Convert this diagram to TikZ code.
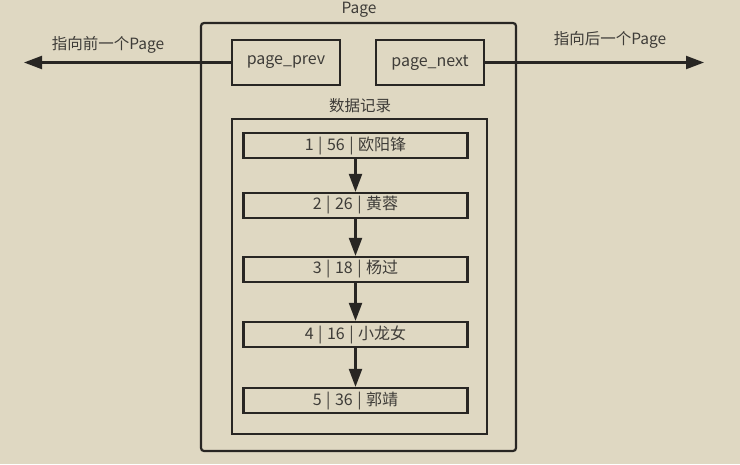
\documentclass[tikz,border=0pt]{standalone}
\usepackage{fontspec}
\setmainfont{Noto Sans CJK SC}
\usetikzlibrary{arrows.meta}
\definecolor{bg}{RGB}{223,216,194}
\definecolor{ln}{RGB}{40,38,35}
\definecolor{tx}{RGB}{62,60,56}
\newcommand{\sep}{\hspace{0.28em}|\hspace{0.28em}}
\tikzset{
  box/.style={draw=ln, line width=2.2pt, inner sep=0pt},
  rec/.style={box, minimum width=224pt, minimum height=25pt, text=tx, font=\fontsize{16}{18}\selectfont},
  lbl/.style={text=tx, font=\fontsize{15.5}{18}\selectfont, inner sep=0pt},
  conn/.style={draw=ln, line width=2.2pt, -{Triangle[length=18pt,width=13pt]}},
}
\begin{document}
\begin{tikzpicture}[x=1pt,y=-1pt]
\fill[bg] (0,0) rectangle (740,464);
\useasboundingbox (0,0) rectangle (740,464);
\node[box, rounded corners=3pt, minimum width=315pt, minimum height=428pt] (page) at (358.5,237) {};
\node[lbl] (pagelbl) at (359,10) {Page};
\node[box, minimum width=108pt, minimum height=45pt, text=tx, font=\fontsize{16}{18}\selectfont] (prev) at (286,62.5) {page\_prev};
\node[box, minimum width=108pt, minimum height=45pt, text=tx, font=\fontsize{16}{18}\selectfont] (next) at (430,62.5) {page\_next};
\node[lbl] (datalbl) at (360,106) {数据记录};
\node[box, minimum width=255pt, minimum height=315pt] (data) at (359.5,276.5) {};
\node[rec] (r1) at (355.5,145.5) {1\sep 56\sep 欧阳锋};
\node[rec] (r2) at (355.5,205.5) {2\sep 26\sep 黄蓉};
\node[rec] (r3) at (355.5,269.5) {3\sep 18\sep 杨过};
\node[rec] (r4) at (355.5,334.5) {4\sep 16\sep 小龙女};
\node[rec] (r5) at (355.5,400.5) {5\sep 36\sep 郭靖};
\coordinate (lend) at (24,62.5);
\coordinate (rend) at (704,62.5);
\node[lbl] (lefttxt) at (108,45) {指向前一个Page};
\node[lbl] (righttxt) at (610,40) {指向后一个Page};
\draw[conn] (prev.west) -- (lend);
\draw[conn] (next.east) -- (rend);
\draw[conn] (r1.south) -- (r2.north);
\draw[conn] (r2.south) -- (r3.north);
\draw[conn] (r3.south) -- (r4.north);
\draw[conn] (r4.south) -- (r5.north);
\end{tikzpicture}
\end{document}
